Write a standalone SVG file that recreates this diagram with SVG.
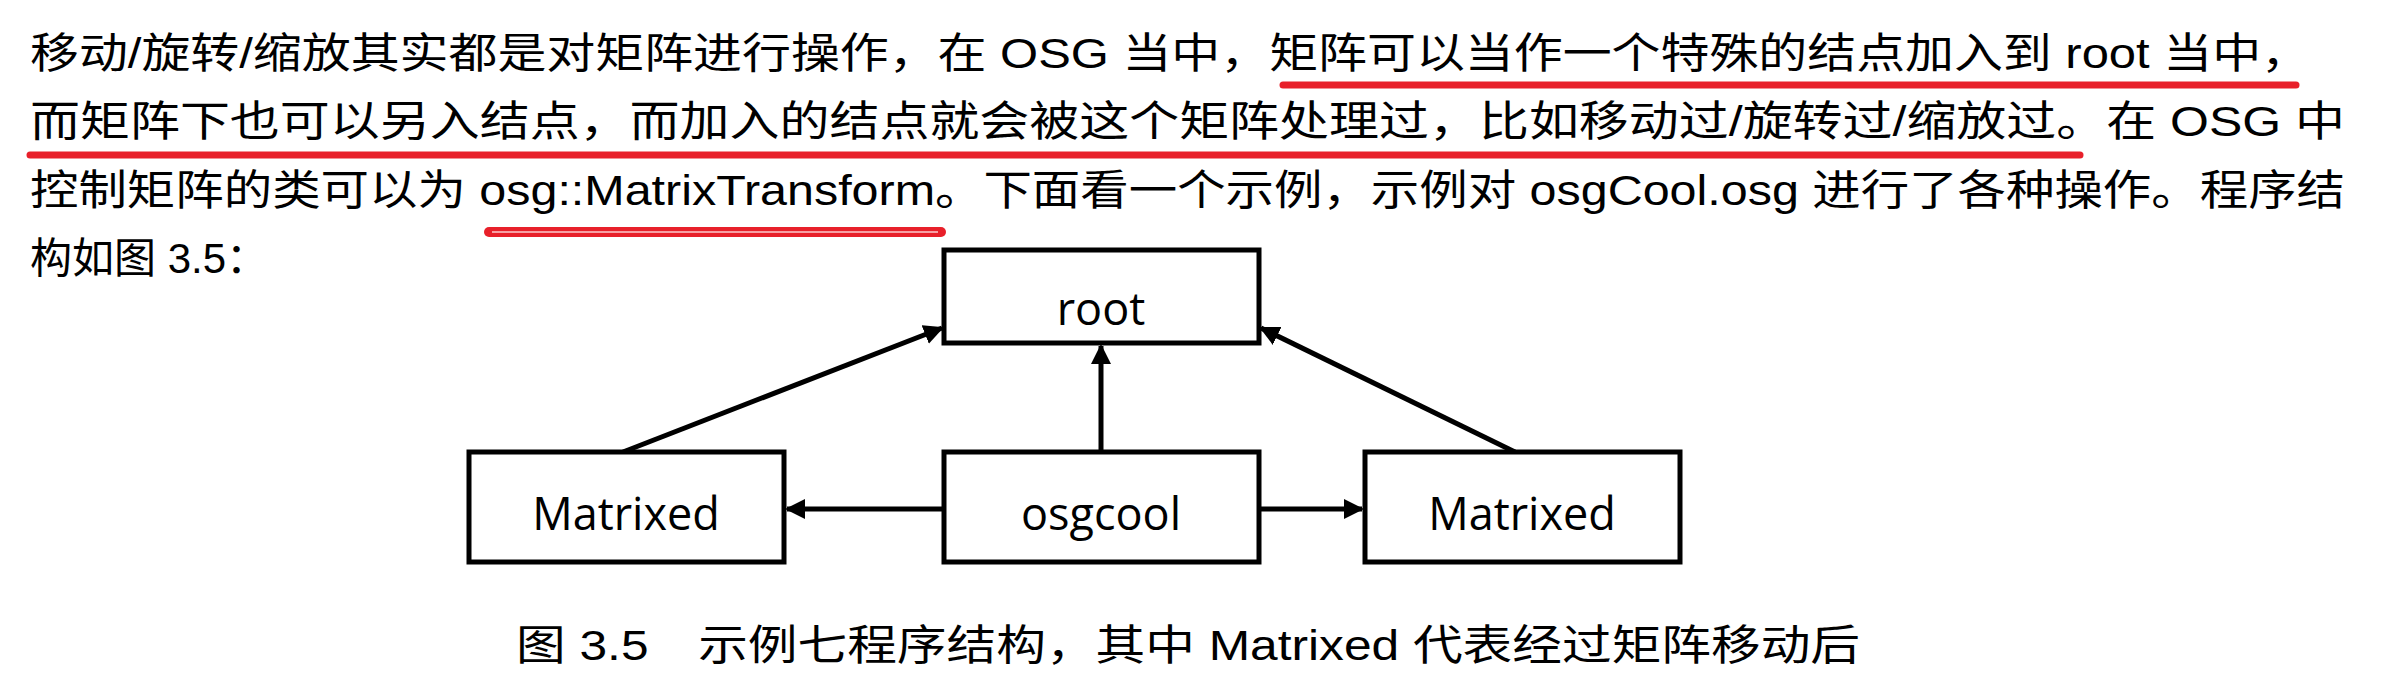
<svg xmlns="http://www.w3.org/2000/svg" width="2381" height="686" viewBox="0 0 2381 686">
<style>
.t{font-family:"Liberation Sans","Noto Sans CJK SC",sans-serif;font-size:42px;fill:#000}
.n{font-family:"Open Sans","Liberation Sans",sans-serif;font-size:45px;fill:#000;text-anchor:middle}
.box{fill:#fff;stroke:#000;stroke-width:5}
.c{stroke:#000;stroke-width:5;fill:none;marker-end:url(#ah)}
.ul{stroke:#e8202a;stroke-width:7;stroke-linecap:round}
</style>
<defs><marker id="ah" viewBox="0 0 10 10" refX="9" refY="5" markerWidth="4" markerHeight="4" orient="auto" markerUnits="strokeWidth"><path d="M0,0L10,5L0,10z" fill="#000"/></marker></defs>
<rect width="2381" height="686" fill="#fff"/>
<g id="text">
<text class="t" x="30" y="68" textLength="2280" lengthAdjust="spacingAndGlyphs">移动/旋转/缩放其实都是对矩阵进行操作，在 OSG 当中，矩阵可以当作一个特殊的结点加入到 root 当中，</text>
<text class="t" x="30" y="136" textLength="2315" lengthAdjust="spacingAndGlyphs">而矩阵下也可以另入结点，而加入的结点就会被这个矩阵处理过，比如移动过/旋转过/缩放过。在 OSG 中</text>
<text class="t" x="30" y="205" textLength="2315" lengthAdjust="spacingAndGlyphs">控制矩阵的类可以为 osg::MatrixTransform。下面看一个示例，示例对 osgCool.osg 进行了各种操作。程序结</text>
<text class="t" x="30" y="273">构如图 3.5：</text>
<line class="ul" x1="1283" y1="85" x2="2296" y2="85"/>
<line class="ul" x1="30" y1="155" x2="2080" y2="155"/>
<line x1="489" y1="232" x2="941" y2="232" stroke="#e8202a" stroke-width="10" stroke-linecap="round"/>
<line x1="492" y1="232" x2="938" y2="232" stroke="#f7a0a4" stroke-width="2"/>
<text class="t" x="516" y="660" font-size="40" textLength="1344" lengthAdjust="spacingAndGlyphs">图 3.5　示例七程序结构，其中 Matrixed 代表经过矩阵移动后</text>
</g>
<g id="connectors">
<line class="c" x1="623" y1="452" x2="942" y2="328"/>
<line class="c" x1="1101" y1="452" x2="1101" y2="346"/>
<line class="c" x1="1515" y1="452" x2="1261" y2="328"/>
<line class="c" x1="944" y1="509" x2="787" y2="509"/>
<line class="c" x1="1259" y1="509" x2="1362" y2="509"/>
</g>
<g id="root"><rect class="box" x="944" y="250" width="315" height="93"/><text class="n" x="1101" y="325">root</text></g>
<g id="matrixed-left"><rect class="box" x="469" y="452" width="315" height="110"/><text class="n" x="626" y="530">Matrixed</text></g>
<g id="osgcool"><rect class="box" x="944" y="452" width="315" height="110"/><text class="n" x="1101" y="530">osgcool</text></g>
<g id="matrixed-right"><rect class="box" x="1365" y="452" width="315" height="110"/><text class="n" x="1522" y="530">Matrixed</text></g>
</svg>
